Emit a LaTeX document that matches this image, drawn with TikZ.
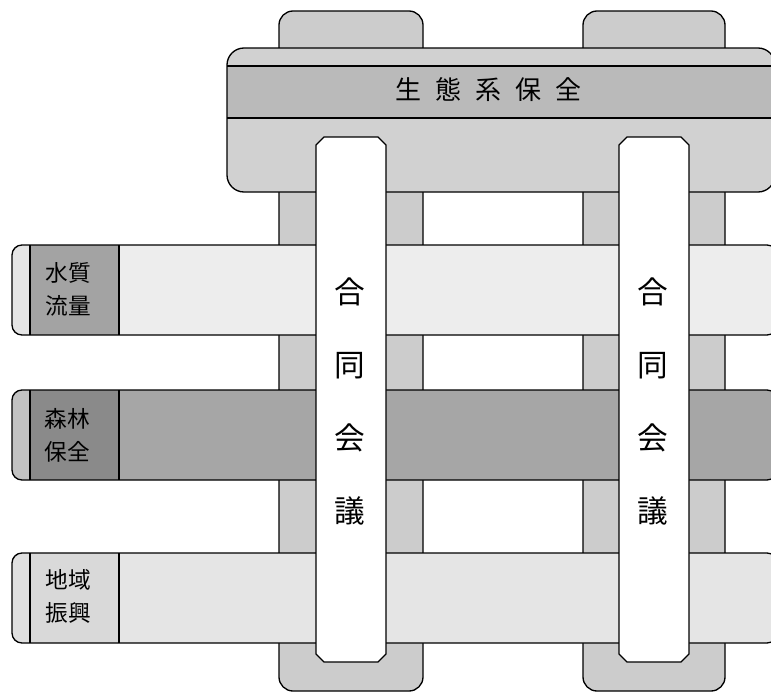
\documentclass[tikz,border=0pt]{standalone}
\usepackage{fontspec}
\newfontfamily\cjk{Noto Sans CJK JP}
\definecolor{pillargray}{gray}{0.80}
\definecolor{bandouter}{gray}{0.82}
\definecolor{bandstrip}{gray}{0.73}
\definecolor{capA}{gray}{0.90}
\definecolor{cellA}{gray}{0.64}
\definecolor{bodyA}{gray}{0.93}
\definecolor{capB}{gray}{0.76}
\definecolor{cellB}{gray}{0.54}
\definecolor{bodyB}{gray}{0.65}
\definecolor{capC}{gray}{0.88}
\definecolor{cellC}{gray}{0.85}
\definecolor{bodyC}{gray}{0.90}
\begin{document}
\begin{tikzpicture}[x=0.75pt,y=-0.75pt,line width=1pt,
  pillar/.style={draw=black,fill=pillargray,rounded corners=10.5pt},
  outline/.style={draw=black,line join=round},
  barshape/.style={draw=black,fill=white,line join=round},
  maintext/.style={inner sep=0pt,font=\cjk\fontsize{19.5pt}{24pt}\selectfont},
  bartext/.style={inner sep=0pt,align=center,font=\cjk\fontsize{23pt}{54.75pt}\selectfont},
  labeltext/.style={inner sep=0pt,align=center,font=\cjk\fontsize{17pt}{24.75pt}\selectfont}]
\useasboundingbox (0,0) rectangle (771,693);
\fill[white] (0,0) rectangle (771,693);
% pillars behind
\draw[pillar] (279,11) rectangle (423,691);
\draw[pillar] (583,11) rectangle (725,691);
% main band
\fill[bandouter,rounded corners=12.75pt] (227,48) rectangle (775,192);
\fill[bandstrip] (227,66) rectangle (775,118);
\draw (227,66) -- (775,66);
\draw (227,118) -- (775,118);
\draw[outline,rounded corners=12.75pt] (227,48) rectangle (775,192);
% horizontal band 1
\fill[bodyA,rounded corners=7.5pt] (12,245) rectangle (777,335);
\fill[capA,rounded corners=7.5pt] (12,245) rectangle (40,335);
\fill[cellA] (30,245) rectangle (119,335);
\draw[outline,rounded corners=7.5pt] (12,245) rectangle (777,335);
\draw (30,245) -- (30,335);
\draw (119,245) -- (119,335);
% horizontal band 2
\fill[bodyB,rounded corners=7.5pt] (12,390) rectangle (777,480);
\fill[capB,rounded corners=7.5pt] (12,390) rectangle (40,480);
\fill[cellB] (30,390) rectangle (119,480);
\draw[outline,rounded corners=7.5pt] (12,390) rectangle (777,480);
\draw (30,390) -- (30,480);
\draw (119,390) -- (119,480);
% horizontal band 3
\fill[bodyC,rounded corners=7.5pt] (12,553) rectangle (777,643);
\fill[capC,rounded corners=7.5pt] (12,553) rectangle (40,643);
\fill[cellC] (30,553) rectangle (119,643);
\draw[outline,rounded corners=7.5pt] (12,553) rectangle (777,643);
\draw (30,553) -- (30,643);
\draw (119,553) -- (119,643);
% vertical white bars
\draw[barshape] (324,137) -- (378,137) -- (386,145) -- (386,654) -- (378,662) -- (324,662) -- (316,654) -- (316,145) -- cycle;
\draw[barshape] (627,137) -- (681,137) -- (689,145) -- (689,654) -- (681,662) -- (627,662) -- (619,654) -- (619,145) -- cycle;
% texts
\node[maintext] (eco) at (488.5,90) {生\hspace{10.5pt}態\hspace{10.5pt}系\hspace{10.5pt}保\hspace{10.5pt}全};
\node[bartext] (jointL) at (350,401) {合\\同\\会\\議};
\node[bartext] (jointR) at (653,401) {合\\同\\会\\議};
\node[labeltext] (water) at (68,289) {水質\\流量};
\node[labeltext] (forest) at (67,435) {森林\\保全};
\node[labeltext] (region) at (68,596) {地域\\振興};
\end{tikzpicture}
\end{document}
